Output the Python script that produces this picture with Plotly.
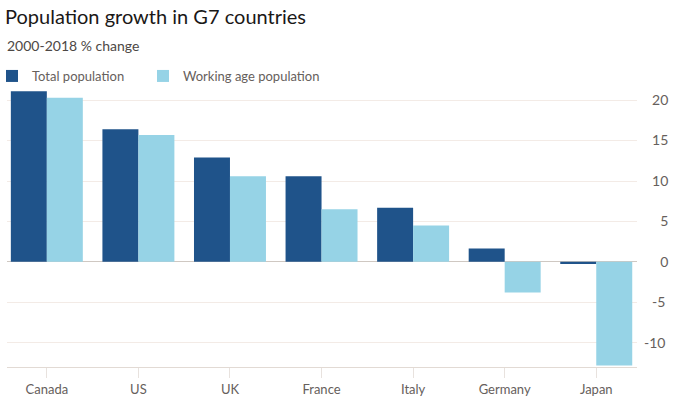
import plotly.graph_objects as go

countries = ["Canada", "US", "UK", "France", "Italy", "Germany", "Japan"]
total_pop = [21.1, 16.4, 12.9, 10.6, 6.7, 1.65, -0.25]
working_pop = [20.3, 15.7, 10.6, 6.5, 4.5, -3.8, -12.8]
y_tickvals = [-10, -5, 0, 5, 10, 15, 20]
y_ticktext = ["-10", "\u2007-5", "\u2007\u20070", "\u2007\u20075", "\u200710", "\u200715", "\u200720"]

FONT = "Lato"
fig = go.Figure()
fig.add_trace(go.Bar(x=countries, y=total_pop, name="Total population",
                     marker=dict(color="#1f538a", line=dict(width=0)), legend="legend"))
fig.add_trace(go.Bar(x=countries, y=working_pop, name="Working age population",
                     marker=dict(color="#96d3e6", line=dict(width=0)), legend="legend2"))

leg_common = dict(orientation="h", xanchor="left", yref="container", y=1-76/401,
                  yanchor="middle", font=dict(family=FONT, size=13, color="#66605c"),
                  bgcolor="rgba(0,0,0,0)")
fig.update_layout(
    width=679, height=401,
    margin=dict(l=7, r=42, t=88, b=34, autoexpand=False),
    paper_bgcolor="white", plot_bgcolor="white",
    barmode="group", bargap=0.214, bargroupgap=0,
    font=dict(family=FONT, color="#66605c", size=13),
    title=dict(text="Population growth in G7 countries", x=5/679, xanchor="left",
               xref="container", yref="container", y=1-17/401, yanchor="middle",
               font=dict(family=FONT, size=20, color="#1a1817")),
    annotations=[dict(text="2000-2018 % change", xref="paper", yref="paper",
                      x=-2/630, xanchor="left", y=(367-46)/279, yanchor="middle",
                      showarrow=False, font=dict(family=FONT, size=14, color="#4d4845"))],
    legend=dict(x=-15/630, xref="paper", **leg_common),
    legend2=dict(x=143/679, xref="container", **leg_common),
    showlegend=True,
)
fig.update_xaxes(range=[-0.435, 6.445], showline=True, linecolor="#e2dad4", linewidth=1,
                 ticks="outside", ticklen=10, tickcolor="#e8e2de", tickwidth=1,
                 showgrid=False, automargin=False, tickfont=dict(size=13, color="#66605c"))
fig.update_yaxes(side="right", range=[-13, 21.5], tickvals=y_tickvals, ticktext=y_ticktext,
                 showgrid=True, gridcolor="#f3ebe6", gridwidth=1,
                 zeroline=True, zerolinecolor="#cfc8c2", zerolinewidth=1, automargin=False,
                 ticks="", ticklabelstandoff=6, tickfont=dict(size=14, color="#66605c"))

fig.write_html("out.html", config={"displayModeBar": False},
               post_script="document.body.style.margin='0';document.body.style.padding='0';")
